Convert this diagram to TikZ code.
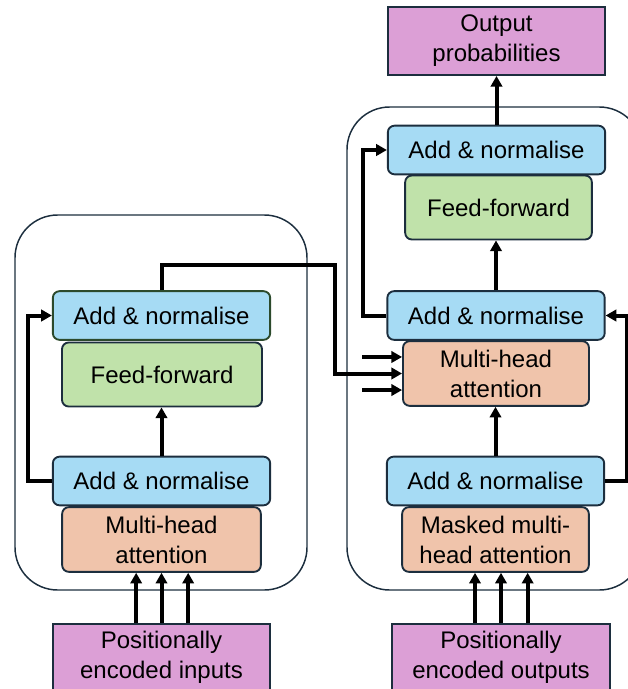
\documentclass[tikz,border=0pt]{standalone}
\usepackage{fontspec}
\setmainfont{Liberation Sans}
\usetikzlibrary{arrows.meta}
\definecolor{edge}{HTML}{1C2E3E}
\definecolor{edgegreen}{HTML}{2C4A2C}
\definecolor{normfill}{HTML}{A6DBF4}
\definecolor{fwdfill}{HTML}{C0E2AA}
\definecolor{attnfill}{HTML}{F0C4AB}
\definecolor{iofill}{HTML}{DC9FD6}

\begin{document}
\begin{tikzpicture}[
    x=0.75pt, y=-0.75pt,
    font=\fontsize{18}{22.5}\selectfont,
    box/.style={draw=edge, line width=1.4pt, rounded corners=5pt, align=center, inner sep=0pt},
    norm/.style={box, fill=normfill, minimum width=163pt, minimum height=36.5pt},
    fwd/.style={box, fill=fwdfill, minimum height=48pt},
    attn/.style={box, fill=attnfill, minimum height=48.5pt},
    io/.style={draw=edge, line width=1.4pt, fill=iofill, align=center, inner sep=0pt, minimum width=163pt},
    stack/.style={draw=edge, line width=1.1pt, rounded corners=32pt},
    flow/.style={line width=3pt, -{Triangle[length=8pt,width=8.5pt]}}
  ]
  \useasboundingbox (0,0) rectangle (628,689);
  \draw[stack] (15,215) rectangle (307,590);
  \draw[stack] (347,107) rectangle (642,590);

  \node (inputs) [io, minimum height=50pt] at (161.5,657.5) {Positionally\\encoded inputs};
  \node (encMHA) [attn, minimum width=149pt] at (161.5,539.5) {Multi-head\\attention};
  \node (encAddBot) [norm] at (161.5,481) {Add \& normalise};
  \node (encFF) [fwd, minimum width=150pt] at (162,374.5) {Feed-forward};
  \node (encAddTop) [norm, draw=edgegreen] at (161.5,315.5) {Add \& normalise};

  \node (outputs) [io, minimum height=50pt] at (501,657.5) {Positionally\\encoded outputs};
  \node (decMasked) [attn, minimum width=140pt] at (495.5,539.5) {Masked multi-\\head attention};
  \node (decAddBot) [norm] at (495.5,481) {Add \& normalise};
  \node (decMHA) [attn, minimum width=139.5pt] at (496,373.5) {Multi-head\\attention};
  \node (decAddMid) [norm] at (496,315.5) {Add \& normalise};
  \node (decFF) [fwd, minimum width=140pt] at (498.5,207.5) {Feed-forward};
  \node (decAddTop) [norm] at (496.5,150) {Add \& normalise};
  \node (probs) [io, minimum height=51pt] at (496.5,41) {Output\\probabilities};

  \coordinate (bridge) at (335,265);

  \draw[flow] ([xshift=-19pt]inputs.north) -- ([xshift=-19pt]inputs.north |- encMHA.south);
  \draw[flow] (inputs.north) -- (inputs.north |- encMHA.south);
  \draw[flow] ([xshift=20pt]inputs.north) -- ([xshift=20pt]inputs.north |- encMHA.south);
  \draw[flow] (encAddBot.north) -- (encAddBot.north |- encFF.south);
  \draw[flow] (encAddBot.west) -| ([xshift=-18pt]encAddTop.west) -- (encAddTop.west);
  \draw[flow] (encAddTop.north) |- (bridge) |- (decMHA.west);

  \draw[flow] ([xshift=-19.5pt]outputs.north) -- ([xshift=-19.5pt]outputs.north |- decMasked.south);
  \draw[flow] (outputs.north) -- (outputs.north |- decMasked.south);
  \draw[flow] ([xshift=20pt]outputs.north) -- ([xshift=20pt]outputs.north |- decMasked.south);
  \draw[flow] (decAddBot.north) -- (decAddBot.north |- decMHA.south);
  \draw[flow] (decAddBot.east) -| ([xshift=16pt]decAddMid.east) -- (decAddMid.east);
  \draw[flow] ([shift={(-30pt,12.4pt)}]decMHA.west) -- ([yshift=12.4pt]decMHA.west);
  \draw[flow] ([shift={(-30pt,-12.4pt)}]decMHA.west) -- ([yshift=-12.4pt]decMHA.west);
  \draw[flow] (decAddMid.north) -- (decAddMid.north |- decFF.south);
  \draw[flow] (decAddMid.west) -| ([xshift=-18pt]decAddTop.west) -- (decAddTop.west);
  \draw[flow] (decAddTop.north) -- (decAddTop.north |- probs.south);
\end{tikzpicture}
\end{document}
